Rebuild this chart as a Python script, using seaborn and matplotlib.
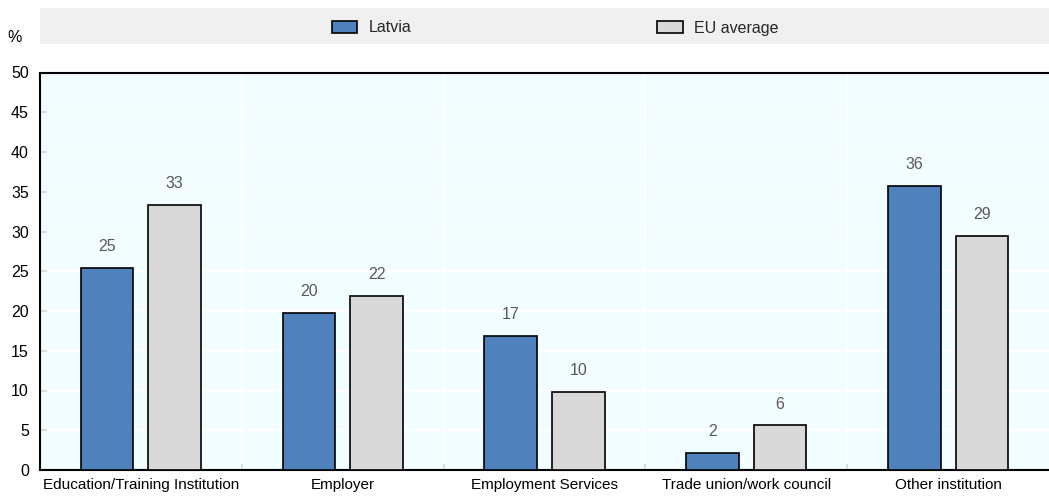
import matplotlib
matplotlib.use("Agg")
import matplotlib.pyplot as plt
from matplotlib.patches import Rectangle, Patch
from matplotlib.ticker import FixedLocator
import seaborn as sns
import pandas as pd
import numpy as np

categories = ["Education/Training Institution", "Employer", "Employment Services",
              "Trade union/work council", "Other institution"]
latvia = [25.4, 19.8, 16.9, 2.2, 35.7]
eu_average = [33.3, 21.9, 9.8, 5.6, 29.4]
series_names = ["Latvia", "EU average"]
y_ticks = [0, 5, 10, 15, 20, 25, 30, 35, 40, 45, 50]

df = pd.DataFrame({
    "category": categories * 2,
    "series": [series_names[0]] * len(categories) + [series_names[1]] * len(categories),
    "value": latvia + eu_average,
})

sns.set_theme(style="white")
plt.rcParams["font.family"] = ["Liberation Sans Narrow", "Liberation Sans", "DejaVu Sans"]

W, H = 1049, 497
fig = plt.figure(figsize=(W / 100, H / 100), dpi=100)
ax = fig.add_axes([40 / W, 1 - 470 / H, 1 - 40 / W, (470 - 72.5) / H])

palette = {"Latvia": "#4F81BD", "EU average": "#D9D9D9"}
sns.barplot(data=df, x="category", y="value", hue="series", order=categories,
            hue_order=series_names, palette=palette, width=0.67, gap=0.22,
            edgecolor="black", linewidth=1.2, saturation=1, legend=False, ax=ax,
            zorder=3)

ax.set_facecolor("#F2FDFF")
ax.set_ylim(0, 50)
ax.set_xlim(-0.5, len(categories) - 0.5)
ax.yaxis.set_major_locator(FixedLocator(y_ticks))
ax.set_yticklabels([str(t) for t in y_ticks])
ax.set_xlabel("")
ax.set_ylabel("")

# white grid: horizontal at each tick, vertical between categories
for t in y_ticks[1:-1]:
    ax.axhline(t, color="white", lw=1.2, zorder=1)
bounds = np.arange(0.5, len(categories) - 0.5, 1.0)
for b in bounds:
    ax.axvline(b, color="white", lw=1.2, zorder=1)

for side in ["left", "bottom", "top"]:
    ax.spines[side].set_visible(True)
    ax.spines[side].set_color("black")
    ax.spines[side].set_linewidth(1.5)
ax.spines["right"].set_visible(False)

ax.tick_params(axis="y", direction="in", length=5, width=1.2, color="black",
               labelsize=11.5, pad=8, left=True)
ax.tick_params(axis="x", which="major", length=0, labelsize=11, pad=6)
ax.xaxis.set_minor_locator(FixedLocator(bounds))
ax.tick_params(axis="x", which="minor", direction="in", length=4, width=1.2,
               color="black", bottom=True)
for lbl in ax.get_xticklabels() + ax.get_yticklabels():
    lbl.set_color("black")

# value labels above bars
for container in ax.containers:
    ax.bar_label(container, fmt="%.0f", padding=10, color="#595959", fontsize=11.5)

# "%" unit label
fig.text(15 / W, 1 - 38 / H, "%", fontsize=11.5, ha="center", va="center", color="black")

# legend band
fig.patches.append(Rectangle((40 / W, 1 - 44 / H), 1 - 40 / W, 36 / H,
                             transform=fig.transFigure, facecolor="#F0F0F0",
                             edgecolor="none", zorder=0))
handles = [Patch(facecolor=palette[s], edgecolor="black", linewidth=1.2) for s in series_names]
fig.legend(handles, series_names, loc="center", bbox_to_anchor=(555 / W, 1 - 28 / H),
           ncol=2, frameon=False, fontsize=11.5, handlelength=1.6, handleheight=0.8,
           handletextpad=0.7, columnspacing=15.4)

fig.savefig("out.png", dpi=100)
